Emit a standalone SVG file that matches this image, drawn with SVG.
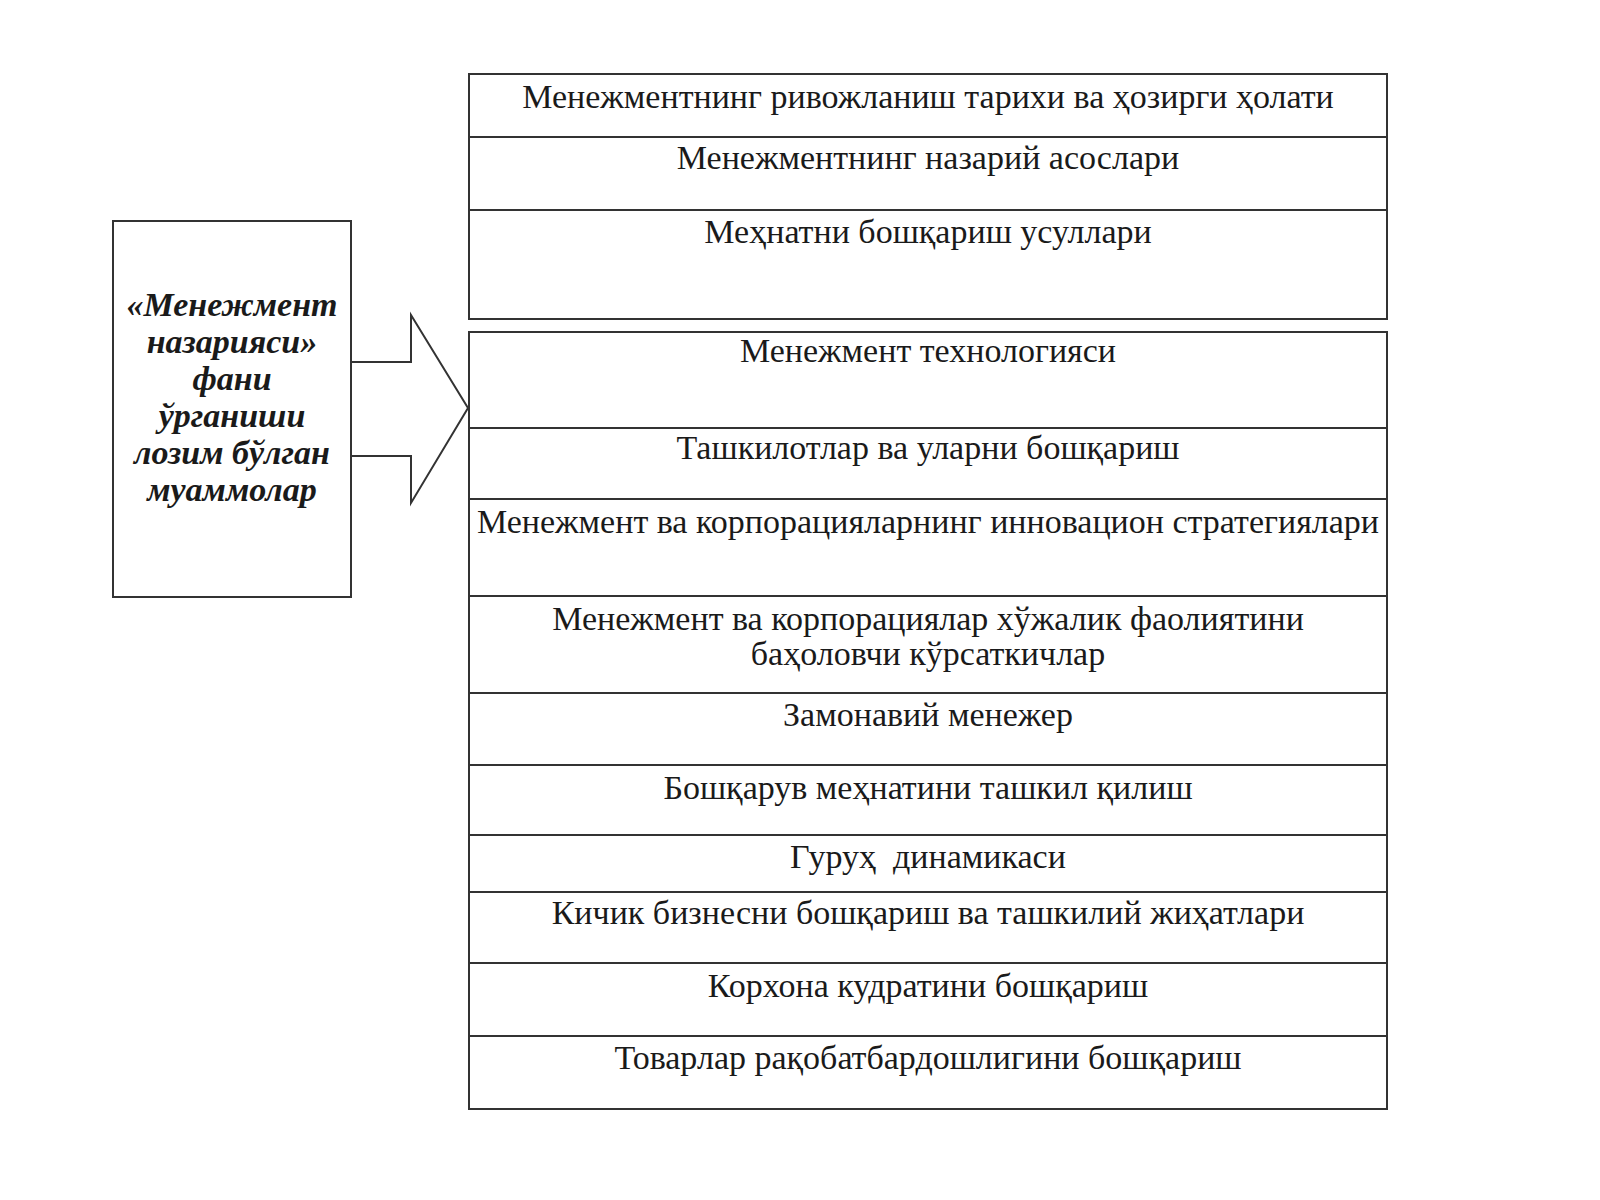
<svg xmlns="http://www.w3.org/2000/svg" width="1600" height="1200" viewBox="0 0 1600 1200">
<style>
.b{fill:#fff;stroke:#333;stroke-width:2}
.t{font-family:"Liberation Serif","Times New Roman",serif;font-size:34px;fill:#1a1a1a;text-anchor:middle}
.h{font-family:"Liberation Serif","Times New Roman",serif;font-size:34px;font-weight:bold;font-style:italic;fill:#1a1a1a;text-anchor:middle}
</style>
<rect width="1600" height="1200" fill="#fff"/>
<g id="source">
<rect class="b" x="113" y="221" width="238" height="376"/>
<text class="h" x="232" y="316">«Менежмент</text>
<text class="h" x="232" y="353">назарияси»</text>
<text class="h" x="232" y="390">фани</text>
<text class="h" x="232" y="427">ўрганиши</text>
<text class="h" x="232" y="464">лозим бўлган</text>
<text class="h" x="232" y="501">муаммолар</text>
</g>
<g id="connectors">
<polygon class="b" points="351,362 411,362 411,315 468,408 411,503 411,456 351,456"/>
</g>
<g id="group1">
<rect class="b" x="469" y="74" width="918" height="245"/>
<line class="b" x1="469" y1="137" x2="1387" y2="137"/>
<line class="b" x1="469" y1="210" x2="1387" y2="210"/>
</g>
<g id="row1"><text class="t" x="928" y="108">Менежментнинг ривожланиш тарихи ва ҳозирги ҳолати</text></g>
<g id="row2"><text class="t" x="928" y="169">Менежментнинг назарий асослари</text></g>
<g id="row3"><text class="t" x="928" y="243">Меҳнатни бошқариш усуллари</text></g>
<g id="group2">
<rect class="b" x="469" y="332" width="918" height="777"/>
<line class="b" x1="469" y1="428" x2="1387" y2="428"/>
<line class="b" x1="469" y1="499" x2="1387" y2="499"/>
<line class="b" x1="469" y1="596" x2="1387" y2="596"/>
<line class="b" x1="469" y1="693" x2="1387" y2="693"/>
<line class="b" x1="469" y1="765" x2="1387" y2="765"/>
<line class="b" x1="469" y1="835" x2="1387" y2="835"/>
<line class="b" x1="469" y1="892" x2="1387" y2="892"/>
<line class="b" x1="469" y1="963" x2="1387" y2="963"/>
<line class="b" x1="469" y1="1036" x2="1387" y2="1036"/>
</g>
<g id="row4"><text class="t" x="928" y="362">Менежмент технологияси</text></g>
<g id="row5"><text class="t" x="928" y="459">Ташкилотлар ва уларни бошқариш</text></g>
<g id="row6"><text class="t" x="928" y="533">Менежмент ва корпорацияларнинг инновацион стратегиялари</text></g>
<g id="row7"><text class="t" x="928" y="630">Менежмент ва корпорациялар хўжалик фаолиятини</text><text class="t" x="928" y="665">баҳоловчи кўрсаткичлар</text></g>
<g id="row8"><text class="t" x="928" y="726">Замонавий менежер</text></g>
<g id="row9"><text class="t" x="928" y="799">Бошқарув меҳнатини ташкил қилиш</text></g>
<g id="row10"><text class="t" x="928" y="868" xml:space="preserve">Гуруҳ  динамикаси</text></g>
<g id="row11"><text class="t" x="928" y="924">Кичик бизнесни бошқариш ва ташкилий жиҳатлари</text></g>
<g id="row12"><text class="t" x="928" y="997">Корхона кудратини бошқариш</text></g>
<g id="row13"><text class="t" x="928" y="1069">Товарлар рақобатбардошлигини бошқариш</text></g>
</svg>
